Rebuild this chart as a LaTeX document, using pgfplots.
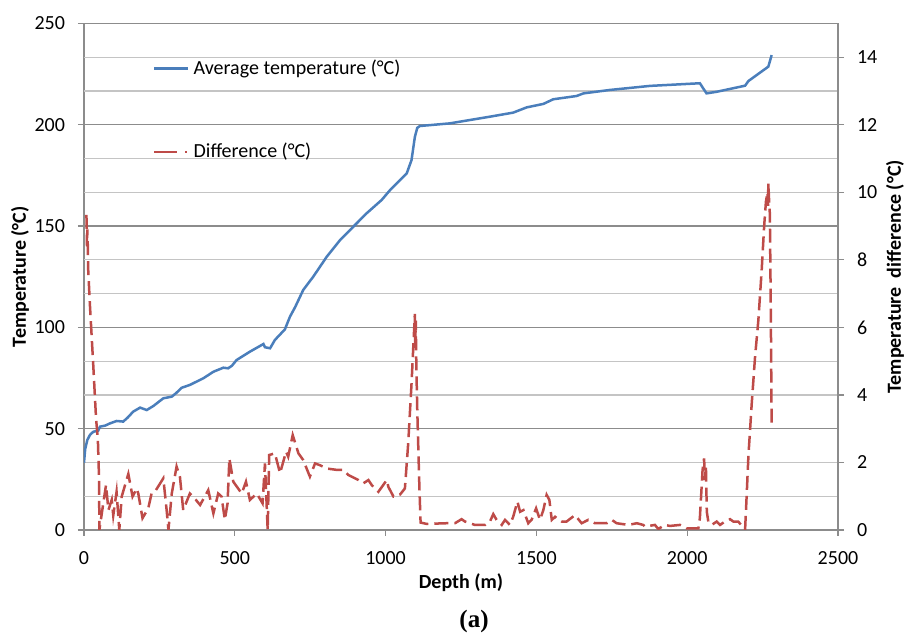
\documentclass[border=0pt]{standalone}
\usepackage{pgfplots}
\pgfplotsset{compat=1.18}
\usepackage{fontspec}
\setmainfont{Carlito}
\newfontfamily\serifb{Liberation Serif}
\definecolor{xlblue}{HTML}{4A7EBB}
\definecolor{xlred}{HTML}{BE4B48}
\definecolor{gdark}{HTML}{8C8C8C}
\definecolor{glight}{HTML}{C4C4C4}
\begin{document}
\begin{tikzpicture}
\pgfplotsset{
  every axis/.append style={
    width=377pt, height=253.25pt, scale only axis,
    xmin=0, xmax=2500,
    font=\fontsize{10}{12}\selectfont,
    /pgf/number format/assume math mode=true,
    /pgf/number format/1000 sep={},
    tick align=outside, major tick length=3pt,
    tick style={color=gdark, line width=0.6pt},
    axis line style={color=gdark, line width=0.6pt},
    label style={font=\fontsize{10}{12}\selectfont\bfseries},
  }
}
\begin{axis}[name=ax,
  ymin=0, ymax=250,
  xtick={0,500,...,2500}, ytick={0,50,...,250},
  xtick pos=bottom, ytick pos=left,
  ymajorgrids, major grid style={color=gdark, line width=0.6pt},
  extra y ticks={16.667,33.333,66.667,83.333,116.667,133.333,166.667,183.333,216.667,233.333},
  extra y tick labels={},
  extra y tick style={ymajorgrids=true, major grid style={color=glight, line width=0.6pt}, major tick length=0pt},
  xlabel={Depth (m)}, ylabel={Temperature (°C)},
  xlabel style={at={(axis description cs:0.5,-0.1046)}, anchor=center},
  ylabel style={at={(axis description cs:-0.0849,0.5)}, anchor=center},
  xticklabel style={yshift=-4pt},
  yticklabel style={xshift=-3pt},
]
\addplot[color=xlblue, line width=1.25pt, no marks] coordinates {
(0,33.2)(4,40)(11,44.4)(20,47)(31,48.5)(47,49)(53,51)(70,51.5)(86,52.6)(108,53.8)(130,53.5)(145,55.5)(163,58.4)(186,60.4)(208,59.2)(230,61.2)(263,65)(291,65.8)(305,67.5)(324,70.2)(351,71.6)(396,74.9)(429,78.1)(462,80.1)(478,79.8)(490,81)(506,83.9)(550,88)(595,91.8)(600,90.2)(617,89.7)(633,93.8)(666,99)(683,105.3)(700,110)(727,118.5)(760,125)(805,134.9)(849,143.1)(893,149.7)(937,156.3)(987,162.9)(1015,167.8)(1070,176)(1086,182.6)(1097,194)(1105,198.5)(1114,199.4)(1213,200.7)(1346,204)(1423,206)(1468,208.6)(1523,210.3)(1556,212.6)(1633,214.2)(1656,215.5)(1744,217.2)(1877,219.2)(2042,220.5)(2064,215.5)(2098,216.3)(2192,219.3)(2203,221.6)(2269,228.7)(2280,234.4)
};
\end{axis}
\begin{axis}[
  ymin=0, ymax=15,
  axis y line*=right, hide x axis,
  ytick={0,2,...,14},
  ylabel={Temperature\ \ difference (°C)},
  ylabel style={at={(axis description cs:1.0756,0.5)}, anchor=center, rotate=0},
  yticklabel style={xshift=3pt},
  legend style={draw=none, fill=none, at={(axis description cs:0.083,0.945)}, anchor=north west, row sep=29pt, font=\fontsize{10}{12}\selectfont, /tikz/every even column/.append style={column sep=0pt}},
  legend cell align=left,
]
\addlegendimage{color=xlblue, line width=1.25pt}
\addlegendentry{Average temperature (°C)}
\addplot[color=xlred, line width=1.25pt, dash pattern=on 7pt off 3pt, no marks,
  legend image code/.code={\draw[line width=1.25pt, dash pattern=on 11.5pt off 4pt on 1pt off 9pt] (0cm,0cm) -- (0.6cm,0cm);}] coordinates {
(8,9.33)(9,9.0)(10,8.4)(11,8.9)(13,8.3)(14,7.7)(20,6.6)(30,5.0)(40,3.3)(46,2.67)(50,1.5)(51,0)
(59,0.49)(73,1.33)(81,0.59)(92,0.89)(97,0.43)(108,1.13)(117,0)(125,0.99)(147,1.66)(161,0.99)(175,1.23)(180,1.08)(194,0.35)(213,0.64)(224,1.08)(235,1.13)(263,1.53)(274,0.59)(280,0)(291,1.08)(307,1.88)(318,1.58)(329,0.59)(351,1.08)(362,0.99)(385,0.74)(412,1.18)(429,0.49)(445,1.08)(456,0.99)(467,0.30)(476,0.79)(482,2.12)(495,1.43)(523,1.08)(537,1.43)(550,0.89)(573,1.08)(592,0.79)(600,1.97)(609,0)(614,2.22)(633,2.27)(650,1.68)(670,2.32)(677,2.17)(692,2.81)(711,2.27)(727,2.07)(749,1.58)(766,1.97)(782,1.92)(805,1.82)(838,1.78)(860,1.78)(876,1.63)(910,1.48)(926,1.38)(943,1.48)(954,1.33)(976,1.13)(1004,1.48)(1009,1.28)(1026,0.99)(1048,1.05)(1064,1.23)(1075,2.57)(1086,4.34)(1094,5.83)(1097,6.40)(1098,5.4)(1100,6.2)(1102,4.8)(1105,3.55)(1112,1.28)(1116,0.22)(1136,0.18)(1202,0.2)(1230,0.2)(1252,0.32)
(1263,0.25)(1280,0.2)(1296,0.15)(1330,0.15)(1346,0.25)(1357,0.47)(1368,0.3)(1385,0.15)(1396,0.3)(1412,0.15)(1423,0.39)(1437,0.84)(1446,0.54)(1457,0.59)(1473,0.2)(1484,0.3)(1499,0.64)(1512,0.3)(1523,0.59)(1534,1.04)(1543,0.89)(1551,0.3)(1562,0.39)(1584,0.25)(1600,0.25)(1628,0.44)(1650,0.2)(1672,0.3)(1694,0.2)(1733,0.2)(1750,0.3)(1766,0.2)(1805,0.15)(1833,0.2)(1854,0.15)(1860,0.1)(1893,0.15)(1904,0.03)(1926,0.15)(1943,0.12)(1976,0.15)(1998,0.05)(2037,0.05)
(2042,0.35)(2051,1.78)(2056,2.12)(2059,1.48)(2062,1.9)(2065,0.54)(2070,0.25)(2081,0.15)(2098,0.25)(2109,0.15)(2125,0.25)(2142,0.32)(2153,0.25)(2169,0.25)(2192,0.02)
(2197,0.99)(2203,2.2)(2214,3.75)(2225,5.13)(2236,6.22)(2247,7.7)(2255,8.98)(2261,9.72)(2266,10.0)(2268,9.6)(2269,10.27)(2272,9.67)(2274,9.37)(2277,6.71)(2280,3.06)
};
\addlegendentry{Difference (°C)}
\end{axis}
\node[font=\serifb\bfseries\fontsize{12.5}{14}\selectfont] at ([xshift=195pt, yshift=-46pt]ax.south west) {(a)};
\pgfresetboundingbox
\path[use as bounding box] ([xshift=-42pt,yshift=-54pt]ax.south west) rectangle ([xshift=33.5pt,yshift=11.75pt]ax.north east);
\end{tikzpicture}
\end{document}
